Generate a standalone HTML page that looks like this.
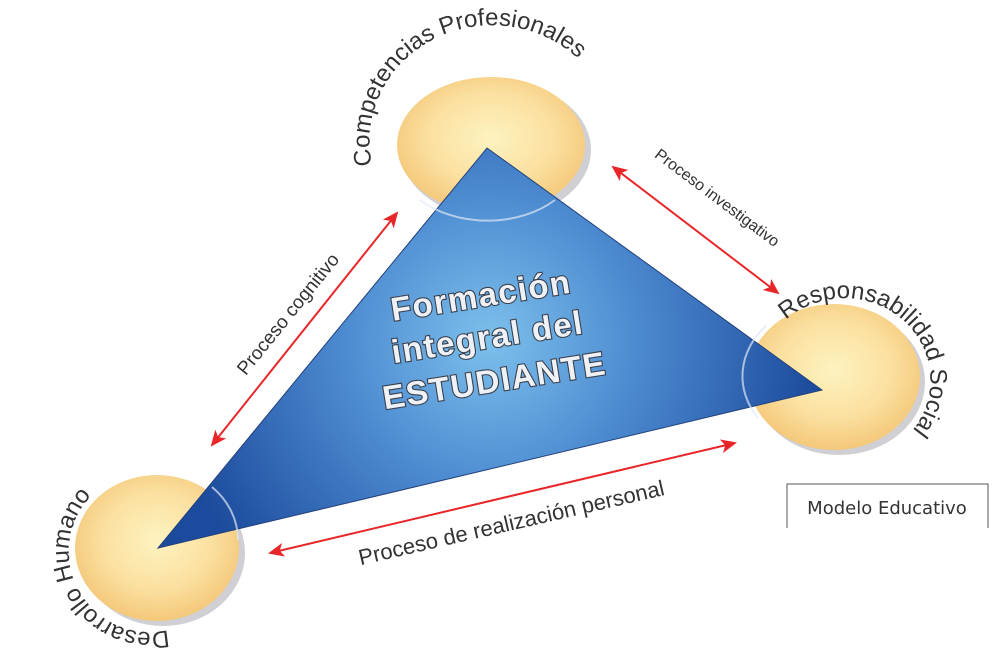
<!DOCTYPE html>
<html><head><meta charset="utf-8"><style>
html,body{margin:0;padding:0;background:#fff;width:1000px;height:666px;overflow:hidden}
svg{display:block}
text{font-family:"Liberation Sans",Arial,sans-serif}
</style></head><body>
<svg width="1000" height="666" viewBox="0 0 1000 666" xmlns="http://www.w3.org/2000/svg">
<defs>
<radialGradient id="og" cx="50%" cy="45%" r="55%">
<stop offset="0" stop-color="#fdf3c0"/><stop offset="0.6" stop-color="#fbe0a0"/><stop offset="1" stop-color="#f4c87a"/>
</radialGradient>
<radialGradient id="tg" cx="490" cy="340" r="330" gradientUnits="userSpaceOnUse">
<stop offset="0" stop-color="#7cc0ec"/><stop offset="0.45" stop-color="#4c8ad0"/><stop offset="1" stop-color="#1c4a9c"/>
</radialGradient>
<marker id="ah" markerWidth="16" markerHeight="14" refX="14" refY="7" orient="auto-start-reverse" markerUnits="userSpaceOnUse">
<path d="M0,0 L16,7 L0,14 L4,7 Z" fill="#e8262a"/></marker>
<path id="pTop" d="M372,165 A118,112 0 0 1 612,118"/>
<path id="pRight" d="M786,320 A86,82 0 1 1 850,462"/>
<path id="pLeft" d="M168,630 A80,80 0 0 1 131,473"/>
</defs>
<ellipse cx="496" cy="150" rx="95" ry="69" fill="#cfcfd4"/>
<ellipse cx="839" cy="382" rx="86" ry="73" fill="#cfcfd4"/>
<ellipse cx="163" cy="553" rx="82" ry="73" fill="#cfcfd4"/>
<ellipse cx="491" cy="145" rx="94" ry="68" fill="url(#og)"/>
<ellipse cx="834" cy="377" rx="86" ry="73" fill="url(#og)"/>
<ellipse cx="157" cy="548" rx="82" ry="73" fill="url(#og)"/>
<polygon points="487,148 822,390 158,548" fill="url(#tg)" stroke="#23417a" stroke-width="1"/>
<path d="M420,200 A94,68 0 0 0 555,200" fill="none" stroke="#dfe7f5" stroke-width="2" opacity="0.7"/>
<path d="M766,326 A86,73 0 0 0 758,418" fill="none" stroke="#dfe7f5" stroke-width="2" opacity="0.7"/>
<path d="M212,487 A82,73 0 0 1 238,540" fill="none" stroke="#dfe7f5" stroke-width="2" opacity="0.7"/>
<line x1="212" y1="445" x2="397" y2="213" stroke="#e8262a" stroke-width="2" marker-end="url(#ah)" marker-start="url(#ah)"/>
<line x1="613" y1="167" x2="778" y2="293" stroke="#e8262a" stroke-width="2" marker-end="url(#ah)" marker-start="url(#ah)"/>
<line x1="270" y1="553" x2="735" y2="443" stroke="#e8262a" stroke-width="2" marker-end="url(#ah)" marker-start="url(#ah)"/>
<text font-size="24" fill="#333"><textPath href="#pTop">Competencias Profesionales</textPath></text>
<text font-size="24" fill="#333"><textPath href="#pRight">Responsabilidad Social</textPath></text>
<text font-size="24" fill="#333"><textPath href="#pLeft">Desarrollo Humano</textPath></text>
<text font-size="19" fill="#333" text-anchor="middle" transform="translate(293,318) rotate(-51)">Proceso cognitivo</text>
<text font-size="16" fill="#333" text-anchor="middle" transform="translate(714,202) rotate(37)">Proceso investigativo</text>
<text font-size="22" fill="#333" text-anchor="middle" transform="translate(513,530) rotate(-13)">Proceso de realización personal</text>
<g transform="rotate(-9 490 340)" font-weight="bold" font-size="33" fill="#eef2f7" stroke="#3a3f4a" stroke-width="2.2" text-anchor="middle" paint-order="stroke" letter-spacing="1.5">
<text x="488" y="306">Formación</text>
<text x="488" y="348">integral del</text>
<text x="488" y="392">ESTUDIANTE</text>
</g>
<path d="M787,528 V484 H988 V528" fill="#fff" stroke="#555" stroke-width="1"/>
<text x="887" y="514" font-size="18" fill="#333" text-anchor="middle" style="font-family:'DejaVu Sans','Liberation Sans',sans-serif">Modelo Educativo</text>
</svg>
</body></html>
